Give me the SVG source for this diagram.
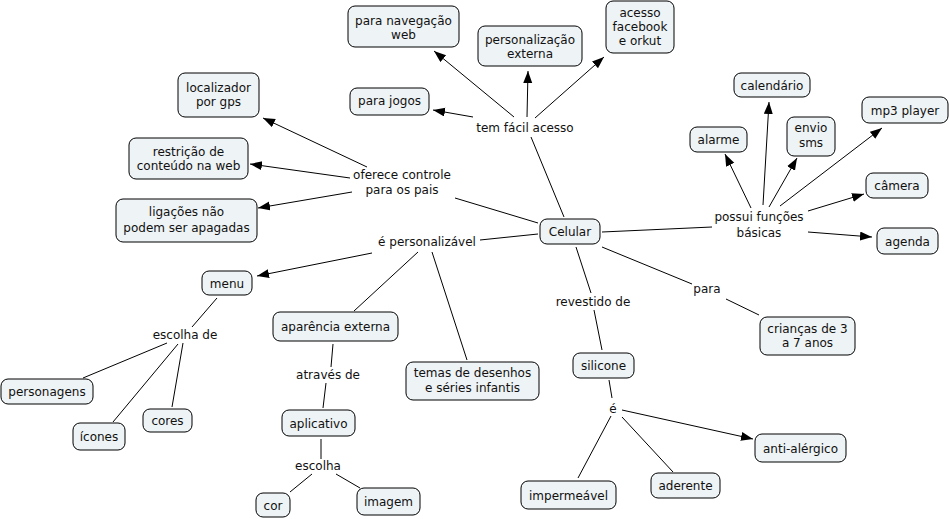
<svg xmlns="http://www.w3.org/2000/svg" width="949" height="519" viewBox="0 0 949 519">
<style>
.n rect{fill:#EEF3F5;stroke:#000;stroke-width:1}
text{font-family:"DejaVu Sans","Verdana",sans-serif;font-size:12px;fill:#111;text-anchor:middle}
.c line{stroke:#000;stroke-width:1}
.c line.a{marker-end:url(#ah)}
</style>
<defs>
<marker id="ah" markerUnits="userSpaceOnUse" markerWidth="13" markerHeight="10" refX="12" refY="4.5" orient="auto">
<path d="M0,0 L12,4.5 L0,9 z" fill="#000"/>
</marker>
</defs>
<rect width="949" height="519" fill="#fff"/>
<g class="c" id="connectors">
<line x1="564" y1="217" x2="531" y2="137"/>
<line class="a" x1="514" y1="117" x2="434" y2="51"/>
<line class="a" x1="527" y1="117" x2="528" y2="71"/>
<line class="a" x1="535" y1="118" x2="604" y2="57"/>
<line class="a" x1="473" y1="117" x2="433" y2="110"/>
<line x1="602" y1="232" x2="712" y2="227"/>
<line class="a" x1="751" y1="208" x2="725" y2="154"/>
<line class="a" x1="763" y1="205" x2="769" y2="102"/>
<line class="a" x1="769" y1="207" x2="797" y2="158"/>
<line class="a" x1="780" y1="206" x2="882" y2="128"/>
<line class="a" x1="808" y1="211" x2="864" y2="194"/>
<line class="a" x1="808" y1="232" x2="872" y2="237"/>
<line x1="538" y1="223" x2="455" y2="198"/>
<line class="a" x1="367" y1="167" x2="263" y2="118"/>
<line class="a" x1="350" y1="178" x2="250" y2="164"/>
<line class="a" x1="352" y1="192" x2="258" y2="208"/>
<line x1="538" y1="234" x2="480" y2="240"/>
<line class="a" x1="372" y1="253" x2="257" y2="276"/>
<line x1="418" y1="252" x2="354" y2="311"/>
<line x1="432" y1="252" x2="467" y2="360"/>
<line x1="217" y1="298" x2="192" y2="327"/>
<line x1="167" y1="343" x2="83" y2="378"/>
<line x1="178" y1="344" x2="113" y2="422"/>
<line x1="183" y1="343" x2="172" y2="407"/>
<line x1="333" y1="344" x2="331" y2="367"/>
<line x1="326" y1="383" x2="323" y2="408"/>
<line x1="321" y1="439" x2="321" y2="459"/>
<line x1="312" y1="474" x2="290" y2="492"/>
<line x1="336" y1="474" x2="360" y2="488"/>
<line x1="576" y1="247" x2="591" y2="293"/>
<line x1="594" y1="310" x2="602" y2="350"/>
<line x1="609" y1="380" x2="612" y2="398"/>
<line class="a" x1="622" y1="410" x2="753" y2="439"/>
<line x1="611" y1="416" x2="578" y2="478"/>
<line x1="622" y1="417" x2="673" y2="472"/>
<line x1="602" y1="247" x2="692" y2="284"/>
<line x1="726" y1="299" x2="759" y2="315"/>
</g>
<g class="n" id="celular"><rect x="540" y="219" width="60" height="25" rx="7"/><text x="570" y="236">Celular</text></g>
<g class="n" id="navegacao"><rect x="348" y="6" width="111" height="41" rx="7"/><text x="403.5" y="25">para navegação</text><text x="403.5" y="39">web</text></g>
<g class="n" id="personalizacao"><rect x="478" y="26" width="104" height="40" rx="7"/><text x="530" y="44">personalização</text><text x="530" y="58">externa</text></g>
<g class="n" id="facebook"><rect x="606" y="1" width="68" height="52" rx="7"/><text x="640" y="17">acesso</text><text x="640" y="31">facebook</text><text x="640" y="45">e orkut</text></g>
<g class="n" id="jogos"><rect x="350" y="88" width="79" height="27" rx="7"/><text x="389.5" y="105">para jogos</text></g>
<g id="temfacil"><text x="525" y="132">tem fácil acesso</text></g>
<g class="n" id="calendario"><rect x="734" y="73" width="76" height="24" rx="7"/><text x="772" y="89.5">calendário</text></g>
<g class="n" id="mp3"><rect x="862" y="97" width="86" height="26" rx="7"/><text x="905" y="114.5">mp3 player</text></g>
<g class="n" id="alarme"><rect x="690" y="127" width="57" height="25" rx="7"/><text x="718.5" y="144">alarme</text></g>
<g class="n" id="envio"><rect x="787" y="117" width="48" height="39" rx="7"/><text x="811" y="132">envio</text><text x="811" y="147">sms</text></g>
<g class="n" id="camera"><rect x="866" y="173" width="62" height="25" rx="7"/><text x="897" y="190">câmera</text></g>
<g class="n" id="agenda"><rect x="877" y="228" width="61" height="26" rx="7"/><text x="907.5" y="245.5">agenda</text></g>
<g id="possui"><text x="759" y="221">possui funções</text><text x="759" y="237">básicas</text></g>
<g class="n" id="localizador"><rect x="178" y="73" width="81" height="44" rx="7"/><text x="218.5" y="92">localizador</text><text x="218.5" y="106">por gps</text></g>
<g class="n" id="restricao"><rect x="129" y="138" width="119" height="41" rx="7"/><text x="188.5" y="156">restrição de</text><text x="188.5" y="170">conteúdo na web</text></g>
<g class="n" id="ligacoes"><rect x="116" y="199" width="141" height="43" rx="7"/><text x="186.5" y="216">ligações não</text><text x="186.5" y="232">podem ser apagadas</text></g>
<g id="oferece"><text x="402" y="179">oferece controle</text><text x="402" y="194">para os pais</text></g>
<g id="epersonalizavel"><text x="427" y="246">é personalizável</text></g>
<g class="n" id="menu"><rect x="202" y="271" width="50" height="24" rx="7"/><text x="227" y="287.5">menu</text></g>
<g id="escolhade"><text x="185" y="339">escolha de</text></g>
<g class="n" id="personagens"><rect x="1" y="379" width="92" height="25" rx="7"/><text x="47" y="396">personagens</text></g>
<g class="n" id="icones"><rect x="73" y="423" width="52" height="27" rx="7"/><text x="99" y="441">ícones</text></g>
<g class="n" id="cores"><rect x="143" y="409" width="49" height="23" rx="7"/><text x="167.5" y="425">cores</text></g>
<g class="n" id="aparencia"><rect x="273" y="312" width="125" height="29" rx="7"/><text x="335.5" y="331">aparência externa</text></g>
<g id="atraves"><text x="328" y="379">através de</text></g>
<g class="n" id="aplicativo"><rect x="282" y="410" width="73" height="26" rx="7"/><text x="318.5" y="427.5">aplicativo</text></g>
<g id="escolha"><text x="318" y="470">escolha</text></g>
<g class="n" id="cor"><rect x="256" y="493" width="34" height="24" rx="7"/><text x="273" y="509.5">cor</text></g>
<g class="n" id="imagem"><rect x="357" y="488" width="63" height="27" rx="7"/><text x="388.5" y="506">imagem</text></g>
<g class="n" id="temas"><rect x="406" y="362" width="133" height="38" rx="7"/><text x="472.5" y="377">temas de desenhos</text><text x="472.5" y="392">e séries infantis</text></g>
<g id="revestido"><text x="593" y="306">revestido de</text></g>
<g class="n" id="silicone"><rect x="573" y="353" width="61" height="25" rx="7"/><text x="603.5" y="370">silicone</text></g>
<g id="e"><text x="613" y="413">é</text></g>
<g class="n" id="antialergico"><rect x="755" y="434" width="91" height="28" rx="7"/><text x="800.5" y="452.5">anti-alérgico</text></g>
<g class="n" id="impermeavel"><rect x="521" y="481" width="95" height="28" rx="7"/><text x="568.5" y="499.5">impermeável</text></g>
<g class="n" id="aderente"><rect x="651" y="473" width="69" height="25" rx="7"/><text x="685.5" y="490">aderente</text></g>
<g id="para"><text x="707" y="293">para</text></g>
<g class="n" id="criancas"><rect x="760" y="317" width="95" height="38" rx="7"/><text x="807.5" y="333">crianças de 3</text><text x="807.5" y="347">a 7 anos</text></g>
</svg>
